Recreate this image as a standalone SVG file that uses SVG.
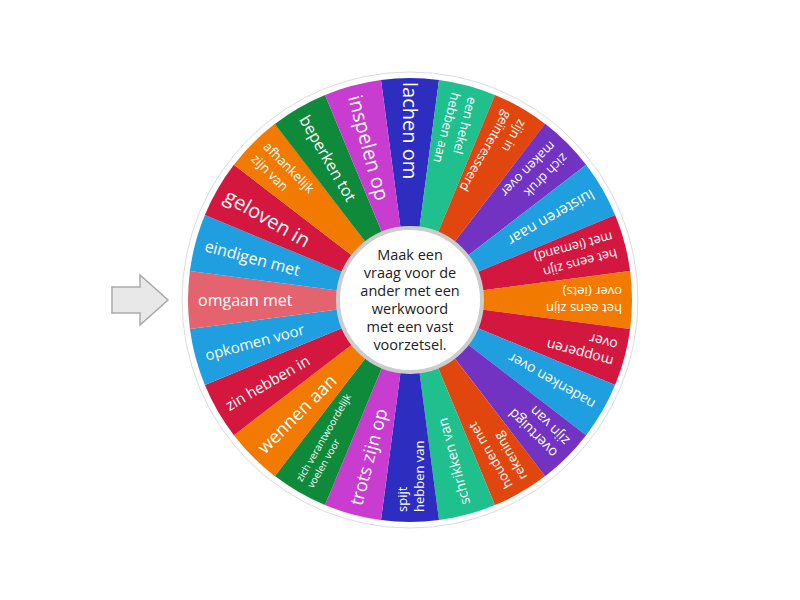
<svg xmlns="http://www.w3.org/2000/svg" width="800" height="600" viewBox="0 0 800 600">
<style>
text{font-family:"Open Sans","Noto Sans",sans-serif;fill:#fff;}
.l{text-anchor:start;dominant-baseline:central;}
.c{font-size:14.5px;fill:#222;text-anchor:middle;}
.b{fill:#2d2dbf}.t{fill:#1fbf8e}.o{fill:#e2460f}.p{fill:#7232c2}.lb{fill:#1f9fe0}.r{fill:#d3173f}.y{fill:#f27a00}.g{fill:#0f8a3b}.m{fill:#c83ccf}.k{fill:#e3636f}
</style>
<defs>
<path id="w" d="M0 0 L220.10 -28.98 A222 222 0 0 1 220.10 28.98 Z"/>
</defs>
<rect width="800" height="600" fill="#fff"/>
<g id="pointer"><polygon points="112,287 140,287 140,275 168,300 140,325 140,313 112,313" fill="#e8e8e8" stroke="#aaa" stroke-width="1.5"/></g>
<circle cx="410" cy="300" r="228" fill="#fff" stroke="#ddd" stroke-width="1"/>
<g id="wheel">
<g id="s1" transform="translate(410 300) rotate(-90)"><use href="#w" class="b"/><text class="l" transform="rotate(180)" x="-218" font-size="20">lachen om</text></g>
<g id="s2" transform="translate(410 300) rotate(-75)"><use href="#w" class="t"/><text class="l" transform="rotate(180)" x="-212" font-size="13"><tspan x="-212" dy="-8.5">een hekel</tspan><tspan x="-212" dy="17">hebben aan</tspan></text></g>
<g id="s3" transform="translate(410 300) rotate(-60)"><use href="#w" class="o"/><text class="l" transform="rotate(180)" x="-212" font-size="13"><tspan x="-212" dy="-8.5">zijn in</tspan><tspan x="-212" dy="17">geïnteresseerd</tspan></text></g>
<g id="s4" transform="translate(410 300) rotate(-45)"><use href="#w" class="p"/><text class="l" transform="rotate(180)" x="-212" font-size="13"><tspan x="-212" dy="-8.5">zich druk</tspan><tspan x="-212" dy="17">maken over</tspan></text></g>
<g id="s5" transform="translate(410 300) rotate(-30)"><use href="#w" class="lb"/><text class="l" transform="rotate(180)" x="-212" font-size="15">luisteren naar</text></g>
<g id="s6" transform="translate(410 300) rotate(-15)"><use href="#w" class="r"/><text class="l" transform="rotate(180)" x="-212" font-size="13"><tspan x="-212" dy="-8.5">het eens zijn</tspan><tspan x="-212" dy="17">met (iemand)</tspan></text></g>
<g id="s7" transform="translate(410 300) rotate(0)"><use href="#w" class="y"/><text class="l" transform="rotate(180)" x="-212" font-size="13"><tspan x="-212" dy="-8.5">het eens zijn</tspan><tspan x="-212" dy="17">over (iets)</tspan></text></g>
<g id="s8" transform="translate(410 300) rotate(15)"><use href="#w" class="r"/><text class="l" transform="rotate(180)" x="-212" font-size="14"><tspan x="-212" dy="-8.5">mopperen</tspan><tspan x="-212" dy="17">over</tspan></text></g>
<g id="s9" transform="translate(410 300) rotate(30)"><use href="#w" class="lb"/><text class="l" transform="rotate(180)" x="-212" font-size="14">nadenken over</text></g>
<g id="s10" transform="translate(410 300) rotate(45)"><use href="#w" class="p"/><text class="l" transform="rotate(180)" x="-212" font-size="14"><tspan x="-212" dy="-8.5">overtuigd</tspan><tspan x="-212" dy="17">zijn van</tspan></text></g>
<g id="s11" transform="translate(410 300) rotate(60)"><use href="#w" class="o"/><text class="l" transform="rotate(180)" x="-212" font-size="13"><tspan x="-212" dy="-8.5">houden met</tspan><tspan x="-212" dy="17">rekening</tspan></text></g>
<g id="s12" transform="translate(410 300) rotate(75)"><use href="#w" class="t"/><text class="l" transform="rotate(180)" x="-212" font-size="14">schrikken van</text></g>
<g id="s13" transform="translate(410 300) rotate(90)"><use href="#w" class="b"/><text class="l" transform="rotate(180)" x="-212" font-size="13"><tspan x="-212" dy="-8.5">spijt</tspan><tspan x="-212" dy="17">hebben van</tspan></text></g>
<g id="s14" transform="translate(410 300) rotate(105)"><use href="#w" class="m"/><text class="l" transform="rotate(180)" x="-212" font-size="18">trots zijn op</text></g>
<g id="s15" transform="translate(410 300) rotate(120)"><use href="#w" class="g"/><text class="l" transform="rotate(180)" x="-212" font-size="10"><tspan x="-212" dy="-6.5">zich verantwoordelijk</tspan><tspan x="-212" dy="13">voelen voor</tspan></text></g>
<g id="s16" transform="translate(410 300) rotate(135)"><use href="#w" class="y"/><text class="l" transform="rotate(180)" x="-212" font-size="18">wennen aan</text></g>
<g id="s17" transform="translate(410 300) rotate(150)"><use href="#w" class="r"/><text class="l" transform="rotate(180)" x="-212" font-size="15">zin hebben in</text></g>
<g id="s18" transform="translate(410 300) rotate(165)"><use href="#w" class="lb"/><text class="l" transform="rotate(180)" x="-212" font-size="15">opkomen voor</text></g>
<g id="s19" transform="translate(410 300) rotate(180)"><use href="#w" class="k"/><text class="l" transform="rotate(180)" x="-212" font-size="16">omgaan met</text></g>
<g id="s20" transform="translate(410 300) rotate(195)"><use href="#w" class="lb"/><text class="l" transform="rotate(180)" x="-212" font-size="16">eindigen met</text></g>
<g id="s21" transform="translate(410 300) rotate(210)"><use href="#w" class="r"/><text class="l" transform="rotate(180)" x="-212" font-size="20">geloven in</text></g>
<g id="s22" transform="translate(410 300) rotate(225)"><use href="#w" class="y"/><text class="l" transform="rotate(180)" x="-212" font-size="13"><tspan x="-212" dy="-8.5">afhankelijk</tspan><tspan x="-212" dy="17">zijn van</tspan></text></g>
<g id="s23" transform="translate(410 300) rotate(240)"><use href="#w" class="g"/><text class="l" transform="rotate(180)" x="-212" font-size="16">beperken tot</text></g>
<g id="s24" transform="translate(410 300) rotate(255)"><use href="#w" class="m"/><text class="l" transform="rotate(180)" x="-212" font-size="20">inspelen op</text></g>
</g>
<g id="center">
<circle cx="410" cy="300" r="72" fill="#fff" stroke="#ccc" stroke-width="4"/>
<text class="c"><tspan x="410" y="260">Maak een</tspan><tspan x="410" y="278">vraag voor de</tspan><tspan x="410" y="296">ander met een</tspan><tspan x="410" y="314">werkwoord</tspan><tspan x="410" y="332">met een vast</tspan><tspan x="410" y="350">voorzetsel.</tspan></text>
</g>
</svg>
